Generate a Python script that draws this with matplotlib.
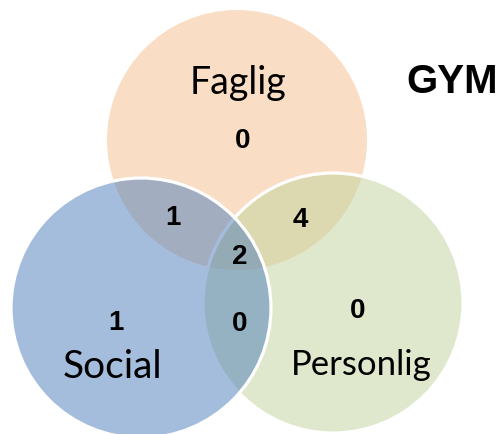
import matplotlib.pyplot as plt
from matplotlib.patches import Circle

# ------------------------------------------------------------
# Data
# ------------------------------------------------------------
title = "GYM"
set_names = ["Faglig", "Social", "Personlig"]
# region counts: only F, F&S, F&P, F&S&P, only S, S&P, only P
region_keys = ["F", "FS", "FP", "FSP", "S", "SP", "P"]
region_counts = [0, 1, 4, 2, 1, 0, 0]

# ------------------------------------------------------------
# Layout (pixel coords, y down, text placed on baseline)
# ------------------------------------------------------------
circle_centers = [(237, 140), (141, 308), (333, 303)]
circle_radius = 130
circle_colors = ["#F5BF8D", "#4D7DBB", "#C1D39D"]
draw_order = [0, 2, 1]

name_pos = [(238, 94), (113, 378), (361, 375)]
name_size = [27, 28, 25]

count_pos = {
    "F": (243, 148), "FS": (173, 225), "FP": (300, 227), "FSP": (240, 264),
    "S": (116, 330), "SP": (240, 331), "P": (358, 318),
}

fig = plt.figure(figsize=(5.03, 4.34), dpi=100)
ax = fig.add_axes([0, 0, 1, 1])
ax.set_xlim(0, 503)
ax.set_ylim(434, 0)
ax.set_aspect("equal")
ax.axis("off")

for i in draw_order:
    ax.add_patch(Circle(circle_centers[i], circle_radius,
                        facecolor=circle_colors[i], alpha=0.5,
                        edgecolor="none"))
    if i != 0:
        ax.add_patch(Circle(circle_centers[i], circle_radius,
                            facecolor="none", edgecolor="white", lw=2.3))

for name, (x, y), fs in zip(set_names, name_pos, name_size):
    ax.text(x, y, name, fontsize=fs, family="Lato",
            ha="center", va="baseline", color="black")

for key, n in zip(region_keys, region_counts):
    x, y = count_pos[key]
    ax.text(x, y, str(n), fontsize=20, fontweight="bold",
            family="Liberation Sans", ha="center", va="baseline")

ax.text(452, 93, title, fontsize=29, fontweight="bold",
        family="Liberation Sans", ha="center", va="baseline")

fig.savefig("out.png", dpi=100)
